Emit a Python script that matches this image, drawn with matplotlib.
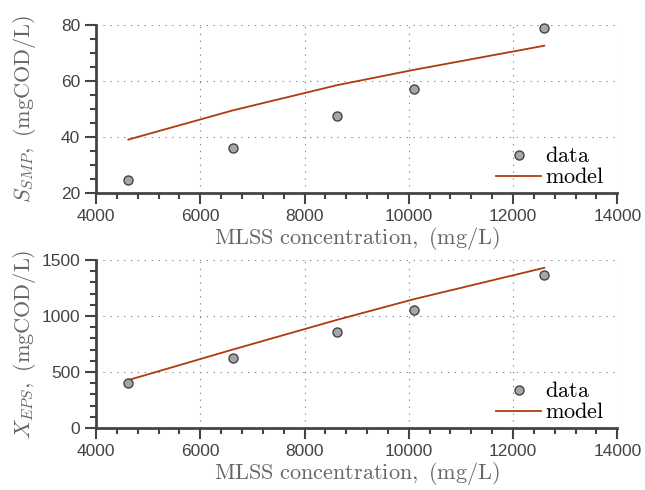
import matplotlib
matplotlib.use("Agg")
import matplotlib.pyplot as plt
from matplotlib.ticker import MultipleLocator

plt.rcParams['mathtext.fontset'] = 'cm'
plt.rcParams['font.family'] = ['Liberation Sans', 'DejaVu Sans']

mlss = [4620, 6620, 8620, 10100, 12600]
smp_data = [24.6, 36.0, 47.5, 57.0, 78.8]
smp_model = [39.1, 49.5, 58.5, 64.0, 72.6]
eps_data = [402, 625, 857, 1049, 1362]
eps_model = [428, 700, 965, 1150, 1430]

xticks = [4000, 6000, 8000, 10000, 12000, 14000]

fig = plt.figure(figsize=(6.45, 4.9), dpi=100)
ax1 = fig.add_axes([0.149, 0.606, 0.808, 0.343])
ax2 = fig.add_axes([0.149, 0.1265, 0.808, 0.343])

spine_c = '#444444'
label_c = '#666666'
line_c = '#b03a0a'

def style(ax, ylim, ymajor, yminor, ylabel):
    ax.set_xlim(4000, 14000)
    ax.set_ylim(*ylim)
    ax.set_xticks(xticks)
    ax.xaxis.set_minor_locator(MultipleLocator(400))
    ax.yaxis.set_major_locator(MultipleLocator(ymajor))
    ax.yaxis.set_minor_locator(MultipleLocator(yminor))
    for s in ['top', 'right']:
        ax.spines[s].set_visible(False)
    for s in ['left', 'bottom']:
        ax.spines[s].set_color(spine_c)
        ax.spines[s].set_linewidth(2.0)
    ax.tick_params(which='major', direction='out', length=8, width=1.5, color=spine_c,
                   labelsize=12.5, labelcolor='#444444')
    ax.tick_params(which='minor', direction='out', length=4.5, width=1.5, color=spine_c)
    ax.grid(True, which='major', linestyle=(0, (1.2, 5)), color='#888888', linewidth=0.8)
    ax.set_axisbelow(True)
    ax.set_xlabel(r'$\mathrm{MLSS\ concentration,\ (mg/L)}$', fontsize=16, color=label_c, labelpad=1)
    ax.set_ylabel(ylabel, fontsize=16, color=label_c)
    ax.yaxis.set_label_coords(-0.112, 0.5)

for ax, d, m, ylim, maj, mnr, lab in [
    (ax1, smp_data, smp_model, (20, 80), 20, 5, r'$S_{SMP},\ \mathrm{(mgCOD/L)}$'),
    (ax2, eps_data, eps_model, (0, 1500), 500, 100, r'$X_{EPS},\ \mathrm{(mgCOD/L)}$'),
]:
    style(ax, ylim, maj, mnr, lab)
    ax.plot(mlss, d, 'o', markersize=6.5, markerfacecolor='#a6a6a6', markeredgecolor='#444444',
            markeredgewidth=1.0, label=r'$\mathrm{data}$', clip_on=False, zorder=3)
    ax.plot(mlss, m, '-', color=line_c, linewidth=1.3, label=r'$\mathrm{model}$', zorder=2)
    ax.legend(loc='lower right', frameon=False, fontsize=16, handlelength=2.0,
              handletextpad=0.2, labelspacing=0.0, borderaxespad=0.0,
              bbox_to_anchor=(0.993, -0.025))

fig.savefig('out.png', dpi=100)
